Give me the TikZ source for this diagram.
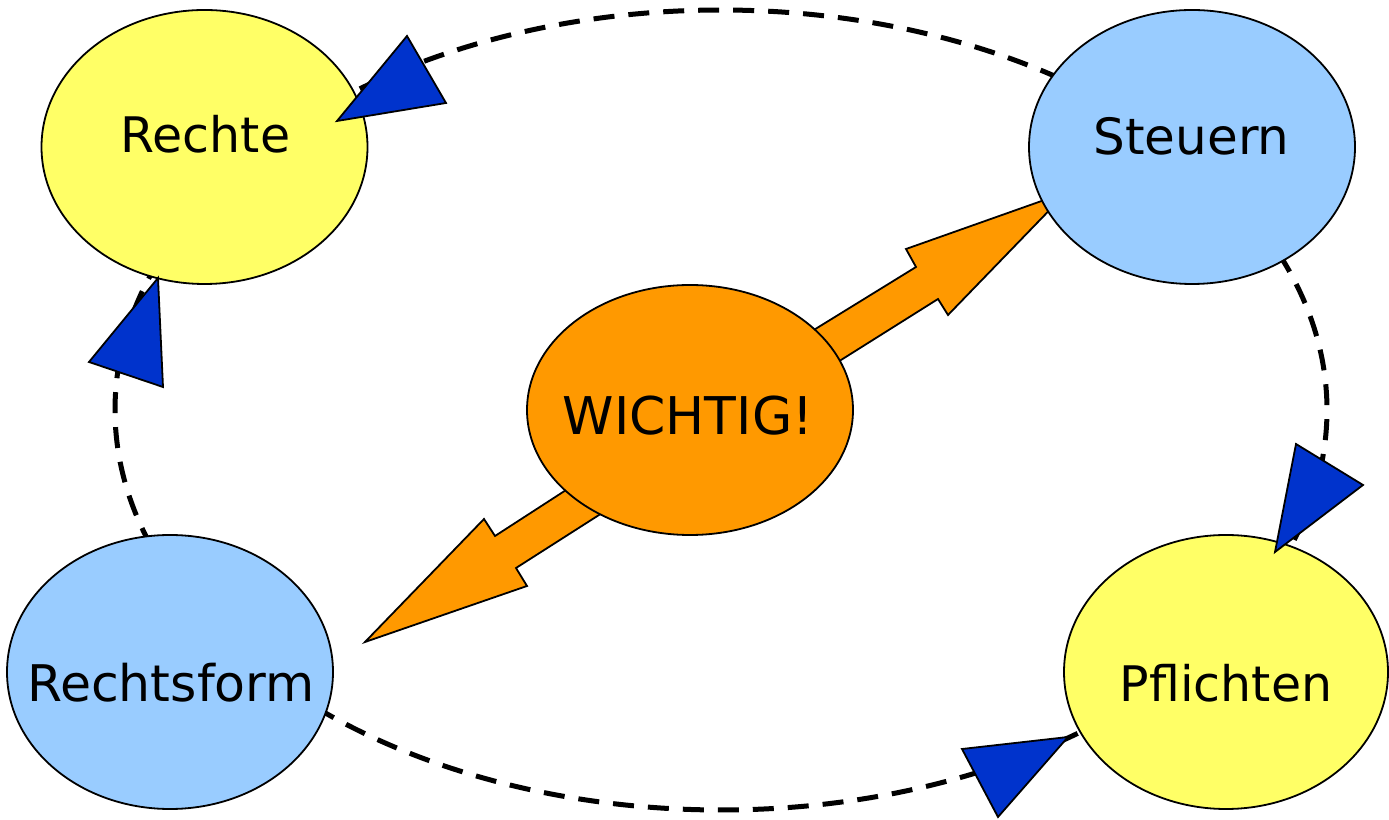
\documentclass[tikz,border=0pt]{standalone}
\usepackage{fontspec}
\setmainfont{DejaVu Sans}
\usetikzlibrary{shapes.geometric}
\definecolor{lyellow}{HTML}{FFFF66}
\definecolor{lblue}{HTML}{99CCFF}
\definecolor{orng}{HTML}{FF9900}
\definecolor{tipblue}{HTML}{0033CC}
\begin{document}
\begin{tikzpicture}[x=1pt,y=1pt,
  blob/.style={ellipse, draw=black, line width=1.8pt, inner sep=0pt, outer sep=0pt,
    minimum width=326pt, minimum height=274pt},
  lbl/.style={anchor=base, inner sep=0pt, font=\fontsize{49}{58}\selectfont},
  flow/.style={draw=black, line width=5pt, dash pattern=on 21pt off 14pt},
  head/.style={draw=black, fill=tipblue, line width=1.8pt, line join=miter},
  bigarrow/.style={draw=black, fill=orng, line width=1.8pt, line join=miter}]
\useasboundingbox (0,0) rectangle (1389,819);
\coordinate (ring) at (721,409);
% dashed circulation arcs
\draw[flow] (ring) ++(56:606 and 400) arc[start angle=56, end angle=128, x radius=606, y radius=400];
\draw[flow] (ring) ++(200:606 and 400) arc[start angle=200, end angle=160, x radius=606, y radius=400];
\draw[flow] (ring) ++(23:606 and 400) arc[start angle=23, end angle=-21, x radius=606, y radius=400];
\draw[flow] (ring) ++(228:606 and 400) arc[start angle=228, end angle=307, x radius=606, y radius=400];
% orange block arrows
\draw[bigarrow] (718,430) -- (916,552) -- (906,570) -- (1067,627) -- (948,504) -- (938,520) -- (744,398) -- cycle;
\draw[bigarrow] (631,371) -- (495,283) -- (484,300) -- (365,177) -- (527,233) -- (516,251) -- (682,357) -- cycle;
% ellipses
\node[blob, fill=lyellow] (rechte) at (204.5,672) {};
\node[blob, fill=lblue] (steuern) at (1192,672) {};
\node[blob, fill=orng, minimum height=250pt] (wichtig) at (690,409) {};
\node[blob, fill=lblue] (rechtsform) at (170,147) {};
\node[blob, fill=lyellow, minimum width=324pt] (pflichten) at (1226,147) {};
% arrow heads
\draw[head] (407,783) -- (446,716) -- (337,698) -- cycle;
\draw[head] (158,541) -- (163,432) -- (89,457) -- cycle;
\draw[head] (1296,375) -- (1363,334) -- (1275,267) -- cycle;
\draw[head] (962,70) -- (998,2) -- (1068,82) -- cycle;
% labels
\node[lbl] (t-rechte) at (205.5,666) {Rechte};
\node[lbl, font=\fontsize{50}{60}\selectfont] (t-steuern) at (1191.5,664) {Steuern};
\node[lbl, font=\fontsize{52}{62}\selectfont] (t-wichtig) at (688,384) {WICHTIG!};
\node[lbl, font=\fontsize{50.5}{60}\selectfont] (t-rechtsform) at (171,117) {Rechtsform};
\node[lbl] (t-pflichten) at (1226,117) {Pflichten};
\end{tikzpicture}
\end{document}
